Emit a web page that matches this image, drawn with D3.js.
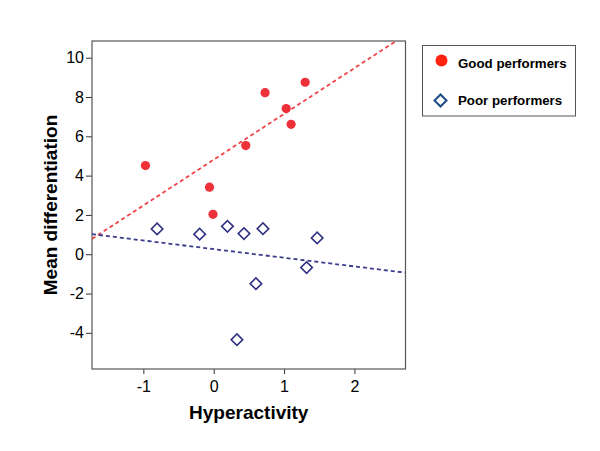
<!DOCTYPE html>
<html>
<head>
<meta charset="utf-8">
<script src="https://cdn.jsdelivr.net/npm/d3@7"></script>
<style>
  body { margin: 0; background: #fff; }
  svg text { font-family: "Liberation Sans", Arial, sans-serif; }
</style>
</head>
<body>
<script>
// data
var goodX = [-0.97, -0.06, -0.01, 0.455, 0.73, 1.03, 1.10, 1.30];
var goodY = [4.51, 3.41, 2.03, 5.53, 8.22, 7.41, 6.61, 8.75];
var poorX = [-0.805, -0.20, 0.195, 0.43, 0.70, 1.47, 1.32, 0.60, 0.33];
var poorY = [1.29, 1.02, 1.42, 1.05, 1.30, 0.83, -0.68, -1.50, -4.35];

// fit lines (intercept, slope) as drawn
var goodFit = [4.81, 2.33];
var poorFit = [0.26, -0.44];

var xTicks = [-1, 0, 1, 2];
var yTicks = [-4, -2, 0, 2, 4, 6, 8, 10];
var seriesNames = ["Good performers", "Poor performers"];

var W = 600, H = 451;
var left = 92, top_ = 41, right = 405.5, bottom = 369;

var svg = d3.select("body").append("svg").attr("width", W).attr("height", H);

var x = d3.scaleLinear().domain([-1.73, 2.726]).range([left, right]);
var y = d3.scaleLinear().domain([-5.84, 10.85]).range([bottom, top_]);

// axes (plain hyphen for minus, like the original)
var fmt = function(d) { return String(d); };
var xAxis = svg.append("g").attr("transform", "translate(0," + bottom + ")")
    .call(d3.axisBottom(x).tickValues(xTicks).tickSize(5).tickPadding(7).tickFormat(fmt));
var yAxis = svg.append("g").attr("transform", "translate(" + left + ",0)")
    .call(d3.axisLeft(y).tickValues(yTicks).tickSize(6).tickPadding(2).tickFormat(fmt));
[xAxis, yAxis].forEach(function(a) {
  a.select(".domain").remove();
  a.selectAll("line").attr("stroke", "#333");
  a.selectAll("text").attr("font-size", 16).attr("fill", "#000")
    .style("font-family", "'Liberation Sans', Arial, sans-serif");
});

// plot frame
svg.append("rect").attr("x", left).attr("y", top_)
  .attr("width", right - left).attr("height", bottom - top_)
  .attr("fill", "none").attr("stroke", "#555").attr("stroke-width", 1.2);

svg.append("clipPath").attr("id", "clip").append("rect")
  .attr("x", left).attr("y", top_).attr("width", right - left).attr("height", bottom - top_);

var plot = svg.append("g").attr("clip-path", "url(#clip)");

// regression lines
function fitLine(fit, color) {
  var xs = x.domain();
  plot.append("line")
    .attr("x1", x(xs[0])).attr("y1", y(fit[0] + fit[1] * xs[0]))
    .attr("x2", x(xs[1])).attr("y2", y(fit[0] + fit[1] * xs[1]))
    .attr("stroke", color).attr("stroke-width", 1.8).attr("stroke-dasharray", "4,3");
}
fitLine(goodFit, "#f04448");
fitLine(poorFit, "#3c3c8c");

// points
var poor = d3.zip(poorX, poorY);
var good = d3.zip(goodX, goodY);
var diamond = d3.symbol().type(d3.symbolSquare).size(66);

svg.selectAll("path.poor").data(poor).enter().append("path")
  .attr("class", "poor")
  .attr("d", diamond)
  .attr("transform", function(d) { return "translate(" + x(d[0]) + "," + y(d[1]) + ") rotate(45)"; })
  .attr("fill", "#fff").attr("stroke", "#2e3080").attr("stroke-width", 1.6);

svg.selectAll("circle.good").data(good).enter().append("circle")
  .attr("class", "good")
  .attr("cx", function(d) { return x(d[0]); })
  .attr("cy", function(d) { return y(d[1]); })
  .attr("r", 4.6).attr("fill", "#ee3038");

// axis titles
svg.append("text").attr("x", (left + right) / 2).attr("y", 419)
  .attr("text-anchor", "middle").attr("font-size", 19).attr("font-weight", "bold")
  .text("Hyperactivity");
svg.append("text").attr("transform", "translate(57," + (top_ + bottom) / 2 + ") rotate(-90)")
  .attr("text-anchor", "middle").attr("font-size", 19).attr("font-weight", "bold")
  .text("Mean differentiation");

// legend
var lg = svg.append("g");
lg.append("rect").attr("x", 422.5).attr("y", 45.5).attr("width", 153).attr("height", 70.5)
  .attr("fill", "#fff").attr("stroke", "#555").attr("stroke-width", 1);
lg.append("circle").attr("cx", 441.5).attr("cy", 60.5).attr("r", 6).attr("fill", "#ff2211");
lg.append("path").attr("d", d3.symbol().type(d3.symbolSquare).size(72))
  .attr("transform", "translate(440.5,100.5) rotate(45)")
  .attr("fill", "#fff").attr("stroke", "#1f4c88").attr("stroke-width", 2);
lg.selectAll("text.leg").data(seriesNames).enter().append("text")
  .attr("class", "leg")
  .attr("x", 458).attr("y", function(d, i) { return i === 0 ? 68 : 105; })
  .attr("font-size", 13.3).attr("font-weight", "bold").text(function(d) { return d; });
</script>
</body>
</html>
